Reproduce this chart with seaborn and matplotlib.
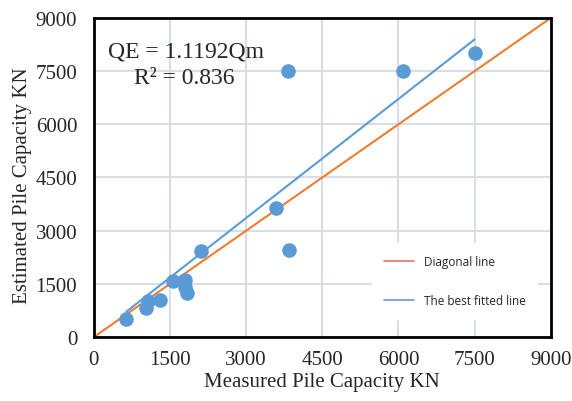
import matplotlib
matplotlib.use("Agg")
import matplotlib.pyplot as plt
import seaborn as sns
import numpy as np
import pandas as pd

# measured vs estimated pile capacity (KN)
measured = [640, 1020, 1070, 1300, 1550, 1790, 1790, 1840, 2120, 3840, 3580, 3820, 6080, 7500]
estimated = [510, 810, 1020, 1040, 1590, 1620, 1420, 1240, 2440, 2460, 3650, 7500, 7500, 8000]
slope = 1.1192
r2 = 0.836
ticks = [0, 1500, 3000, 4500, 6000, 7500, 9000]

df = pd.DataFrame({"measured": measured, "estimated": estimated})
diag = pd.DataFrame({"x": [0, 9000], "y": [0, 9000]})
fx = np.array([min(measured), max(measured)])
fit = pd.DataFrame({"x": fx, "y": slope * fx})

sns.set_style("white")
plt.rcParams["font.family"] = ["Liberation Serif", "DejaVu Serif"]

fig = plt.figure(figsize=(5.72, 4.02), dpi=100)
ax = fig.add_axes([0.164, 0.159, 0.799, 0.794])

sns.lineplot(data=diag, x="x", y="y", ax=ax, color="#ED7D31", linewidth=1.5, label="Diagonal line")
sns.lineplot(data=fit, x="x", y="y", ax=ax, color="#5B9BD5", linewidth=1.5, label="The best fitted line")
sns.scatterplot(data=df, x="measured", y="estimated", ax=ax, color="#5B9BD5", s=110,
                edgecolor="#5B9BD5", linewidth=0, zorder=5)

ax.set_xlim(0, 9000)
ax.set_ylim(0, 9000)
ax.set_xticks(ticks)
ax.set_yticks(ticks)
ax.tick_params(labelsize=15, length=0)
ax.tick_params(axis="x", pad=9)
ax.tick_params(axis="y", pad=12)
ax.grid(True, color="#D9DEE5", linewidth=1.5)
ax.set_axisbelow(True)
for sp in ax.spines.values():
    sp.set_color("black")
    sp.set_linewidth(2)

ax.set_xlabel("Measured Pile Capacity KN", fontsize=15)
ax.set_ylabel("Estimated Pile Capacity KN", fontsize=15)
ax.xaxis.set_label_coords(0.5, -0.11)
ax.yaxis.set_label_coords(-0.136, 0.476)

ax.text(1810, 8070, f"QE = {slope}Qm", fontsize=17, ha="center", va="center")
ax.text(1790, 7330, f"R\u00b2 = {r2}", fontsize=17, ha="center", va="center")

leg = ax.legend(loc="center", bbox_to_anchor=(0.79, 0.1755), frameon=True, fancybox=False,
                edgecolor="white", framealpha=1, prop={"family": "Open Sans", "size": 8.5},
                handlelength=2.5, handletextpad=0.85, labelspacing=2.2, borderpad=1.0)
for line, c in zip(leg.get_lines(), ["#E8736A", "#6C97D8"]):
    line.set_color(c)
    line.set_linewidth(1.2)

fig.savefig("out.png", dpi=100)
